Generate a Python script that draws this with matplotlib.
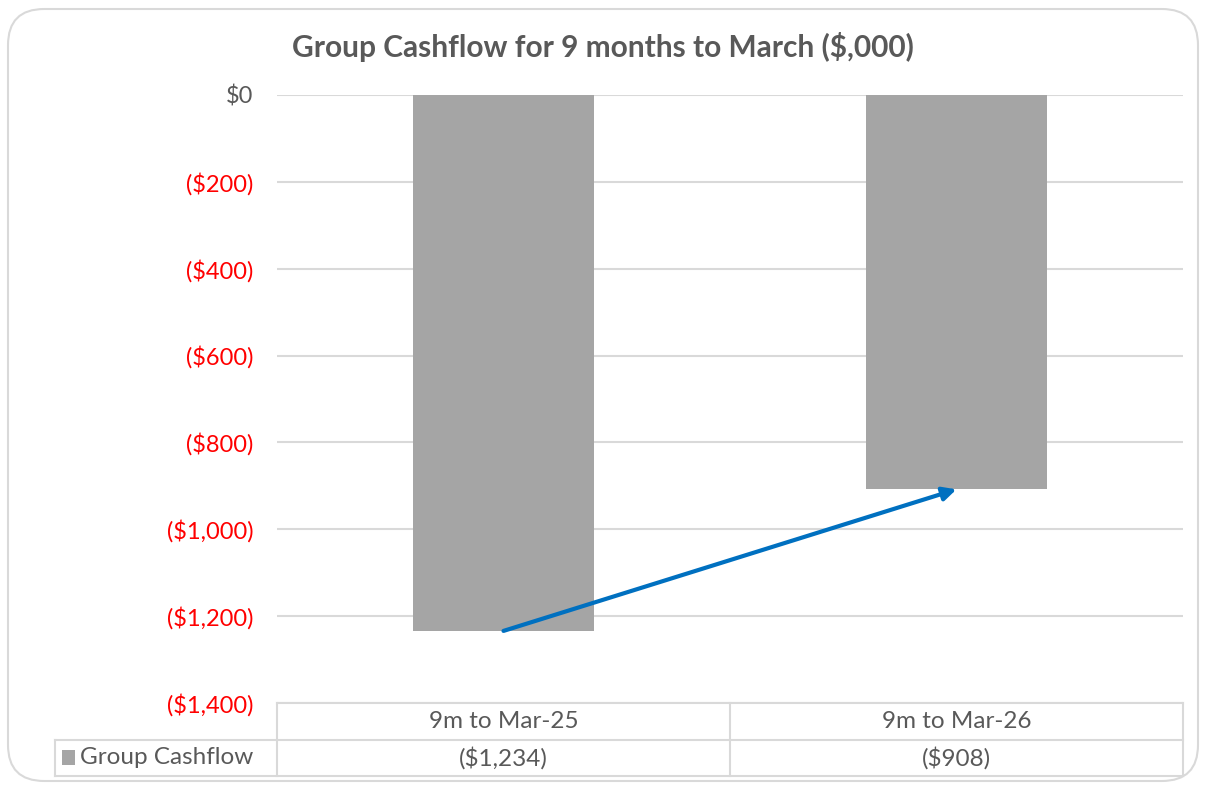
import matplotlib.pyplot as plt
from matplotlib.patches import FancyBboxPatch, Rectangle
import numpy as np

# data
categories = ['9m to Mar-25', '9m to Mar-26']
cashflow = [-1234, -908]
series_name = 'Group Cashflow'
yticks = [0, -200, -400, -600, -800, -1000, -1200, -1400]


def money(v):
    if v < 0:
        return '(${:,.0f})'.format(-v)
    return '${:,.0f}'.format(v)


plt.rcParams['font.family'] = ['Lato', 'DejaVu Sans']
W, H = 1206, 785
fig = plt.figure(figsize=(W / 100, H / 100), dpi=100)

grey_txt = '#595959'
grid_c = '#D9D9D9'
bar_c = '#A5A5A5'

# outer rounded border
fig.patches.append(FancyBboxPatch((8 / W, 4 / H), 1190 / W, 772 / H,
                                  boxstyle='round,pad=0,rounding_size=0.03',
                                  transform=fig.transFigure, fill=False,
                                  edgecolor=grid_c, linewidth=1.5, mutation_aspect=W / H))

left, right, top, bottom = 277, 1183, 95, 703
ax = fig.add_axes([left / W, 1 - bottom / H, (right - left) / W, (bottom - top) / H])
x = np.arange(len(categories))
ax.bar(x, cashflow, width=0.4, color=bar_c, zorder=2)
ax.set_xlim(-0.5, len(categories) - 0.5)
ax.set_ylim(-1400, 0)
ax.set_yticks(yticks)
ax.set_yticklabels([money(v) for v in yticks], fontsize=17)
for lab, v in zip(ax.get_yticklabels(), yticks):
    lab.set_color('red' if v < 0 else grey_txt)
ax.tick_params(axis='y', length=0, pad=17)
ax.set_xticks([])
for s in ax.spines.values():
    s.set_visible(False)
ax.yaxis.grid(True, color=grid_c, linewidth=1.5, zorder=0)
ax.set_axisbelow(True)

# arrow from first bar bottom to second bar bottom
ax.annotate('', xy=(x[1], cashflow[1]), xytext=(x[0], cashflow[0]),
            arrowprops=dict(arrowstyle='-|>', color='#0070C0', lw=3,
                            mutation_scale=20, shrinkA=0, shrinkB=0), zorder=3)

fig.text(0.5, 1 - 47 / H, 'Group Cashflow for 9 months to March ($,000)',
         ha='center', va='center', fontsize=21.5, fontweight='bold', color=grey_txt)

# data table under the axis
r0, r1, r2 = 703, 740, 776
cols = [55, 277, 730, 1183]


def hline(y, x0, x1):
    fig.add_artist(plt.Line2D([x0 / W, x1 / W], [1 - y / H, 1 - y / H], color=grid_c, lw=1.5))


def vline(xx, y0, y1):
    fig.add_artist(plt.Line2D([xx / W, xx / W], [1 - y0 / H, 1 - y1 / H], color=grid_c, lw=1.5))


hline(r0, cols[1], cols[3])
hline(r1, cols[0], cols[3])
hline(r2, cols[0], cols[3])
vline(cols[0], r1, r2)
for c in cols[1:]:
    vline(c, r0, r2)

for i, cat in enumerate(categories):
    cx = (cols[i + 1] + cols[i + 2]) / 2
    fig.text(cx / W, 1 - (r0 + r1) / 2 / H, cat, ha='center', va='center', fontsize=17.5, color=grey_txt)
    fig.text(cx / W, 1 - (r1 + r2) / 2 / H, money(cashflow[i]), ha='center', va='center',
             fontsize=17.5, color=grey_txt)

fig.patches.append(Rectangle((62 / W, 1 - 765 / H), 13 / W, 15 / H, transform=fig.transFigure,
                             facecolor=bar_c, edgecolor='none'))
fig.text(80 / W, 1 - (r1 + r2) / 2 / H, series_name, ha='left', va='center', fontsize=17.5, color=grey_txt)

fig.savefig('out.png', dpi=100)
